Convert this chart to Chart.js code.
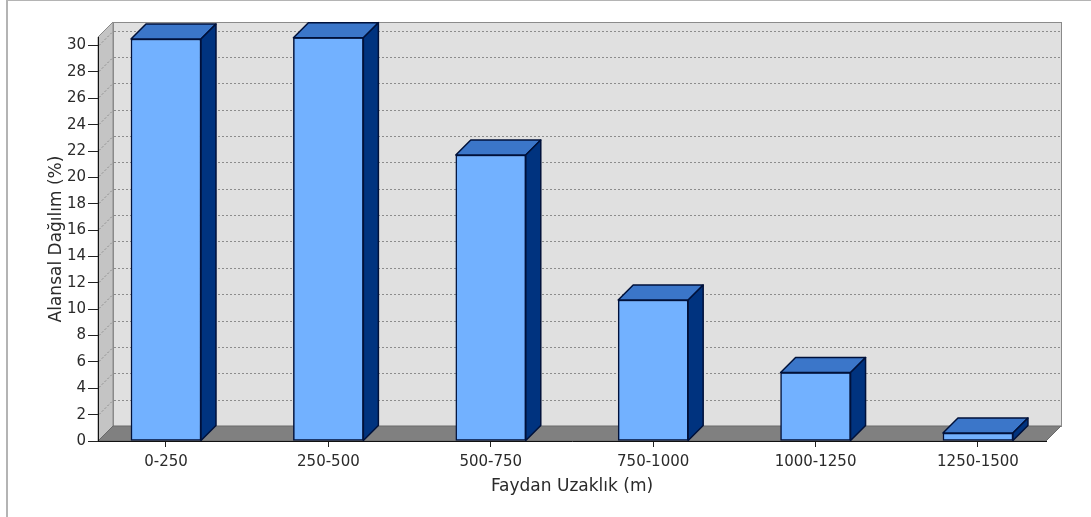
<!DOCTYPE html>
<html>
<head>
<meta charset="utf-8">
<script src="https://cdn.jsdelivr.net/npm/chart.js@4.4.1/dist/chart.umd.min.js"></script>
<style>
    body { margin: 0; background: #ffffff; }
    #frame {
        position: absolute; left: 6px; top: -1px;
        width: 1100px; height: 516px;
        border: 2px solid #b4b4b4;
    }
    #wrap { position: absolute; left: 0; top: 0; width: 1091px; height: 517px; }
</style>
</head>
<body>
<div id="frame"></div>
<div id="wrap"><canvas id="distChart"></canvas></div>
<script>
// Distance bands from the fault and their share of the area
const distanceBands = ['0-250', '250-500', '500-750', '750-1000', '1000-1250', '1250-1500'];
const areaShare = [30.5, 30.6, 21.7, 10.7, 5.2, 0.6];
const yTickStep = 2;
const yMax = 30.65;

// Depth of the fake 3D box (pixels)
const DX = 15;
const DY = 15;

const FONT = 'DejaVu Sans';
const OUTLINE = '#00113a';

// Walls, floor and dotted grid of the 3D box, drawn before the axes
const boxPlugin = {
    id: 'box3d',
    beforeDraw(chart) {
        const ctx = chart.ctx;
        const a = chart.chartArea;
        const yScale = chart.scales.y;
        ctx.save();

        // back wall
        ctx.fillStyle = '#e0e0e0';
        ctx.fillRect(a.left + DX, a.top - DY, a.right - a.left, a.bottom - a.top);
        ctx.strokeStyle = '#8a8a8a';
        ctx.lineWidth = 1;
        ctx.strokeRect(a.left + DX + 0.5, a.top - DY + 0.5, a.right - a.left, a.bottom - a.top);

        // left wall
        ctx.fillStyle = '#c4c4c4';
        ctx.beginPath();
        ctx.moveTo(a.left, a.bottom);
        ctx.lineTo(a.left, a.top);
        ctx.lineTo(a.left + DX, a.top - DY);
        ctx.lineTo(a.left + DX, a.bottom - DY);
        ctx.closePath();
        ctx.fill();
        ctx.strokeStyle = '#8a8a8a';
        ctx.stroke();

        // dotted grid lines on the back and left walls
        ctx.strokeStyle = '#8c8c8c';
        ctx.setLineDash([2, 2]);
        yScale.ticks.forEach(t => {
            if (t.value === 0) return;
            const py = Math.round(yScale.getPixelForValue(t.value)) + 0.5;
            ctx.beginPath();
            ctx.moveTo(a.left + DX + 1, py - DY);
            ctx.lineTo(a.right + DX, py - DY);
            ctx.stroke();
            ctx.beginPath();
            ctx.moveTo(a.left + 1, py - 1);
            ctx.lineTo(a.left + DX, py - DY);
            ctx.stroke();
        });
        ctx.setLineDash([]);

        // floor
        ctx.fillStyle = '#808080';
        ctx.beginPath();
        ctx.moveTo(a.left, a.bottom);
        ctx.lineTo(a.right, a.bottom);
        ctx.lineTo(a.right + DX, a.bottom - DY);
        ctx.lineTo(a.left + DX, a.bottom - DY);
        ctx.closePath();
        ctx.fill();
        ctx.strokeStyle = '#6a6a6a';
        ctx.stroke();

        ctx.restore();
    }
};

// Top and right side faces of every bar
const barDepthPlugin = {
    id: 'barDepth',
    afterDatasetsDraw(chart) {
        const ctx = chart.ctx;
        const meta = chart.getDatasetMeta(0);
        ctx.save();
        ctx.lineWidth = 1.5;
        ctx.lineJoin = 'round';
        ctx.strokeStyle = OUTLINE;
        meta.data.forEach(bar => {
            const p = bar.getProps(['x', 'y', 'base', 'width'], true);
            const l = p.x - p.width / 2;
            const r = p.x + p.width / 2;

            // top face
            ctx.fillStyle = '#3b76c9';
            ctx.beginPath();
            ctx.moveTo(l, p.y);
            ctx.lineTo(l + DX, p.y - DY);
            ctx.lineTo(r + DX, p.y - DY);
            ctx.lineTo(r, p.y);
            ctx.closePath();
            ctx.fill();
            ctx.stroke();

            // side face
            ctx.fillStyle = '#00337f';
            ctx.beginPath();
            ctx.moveTo(r, p.y);
            ctx.lineTo(r + DX, p.y - DY);
            ctx.lineTo(r + DX, p.base - DY);
            ctx.lineTo(r, p.base);
            ctx.closePath();
            ctx.fill();
            ctx.stroke();
        });
        ctx.restore();
    }
};

function renderChart() {
    const ctx = document.getElementById('distChart').getContext('2d');

    // bars sit on integer x positions, one per distance band
    const points = areaShare.map((v, i) => ({ x: i, y: v }));

    new Chart(ctx, {
        type: 'bar',
        data: {
            datasets: [{
                data: points,
                backgroundColor: '#72b1ff',
                borderColor: OUTLINE,
                borderWidth: 1.5,
                borderSkipped: false,
                barThickness: 70
            }]
        },
        plugins: [boxPlugin, barDepthPlugin],
        options: {
            responsive: true,
            maintainAspectRatio: false,
            animation: false,
            layout: { padding: { left: 0, top: 37, right: 45, bottom: 0 } },
            plugins: {
                legend: { display: false },
                tooltip: { enabled: false }
            },
            scales: {
                x: {
                    type: 'linear',
                    min: -0.4187,
                    max: 5.419,
                    bounds: 'data',
                    offset: false,
                    afterFit: scale => { scale.height = 76; },
                    afterBuildTicks: scale => {
                        scale.ticks = distanceBands.map((b, i) => ({ value: i }));
                    },
                    grid: {
                        offset: false,
                        drawOnChartArea: false,
                        drawTicks: true,
                        tickLength: 6,
                        color: '#222222'
                    },
                    border: { display: true, color: '#111111', width: 1 },
                    ticks: {
                        autoSkip: false,
                        maxRotation: 0,
                        padding: 6,
                        color: '#2a2a2a',
                        font: { family: FONT, size: 15 },
                        callback: v => distanceBands[v]
                    },
                    title: {
                        display: true,
                        text: 'Faydan Uzaklık (m)',
                        color: '#2a2a2a',
                        font: { family: FONT, size: 17 },
                        padding: { top: 0, bottom: 20 }
                    }
                },
                y: {
                    min: 0,
                    max: yMax,
                    afterFit: scale => { scale.width = 98; },
                    grid: {
                        drawOnChartArea: false,
                        drawTicks: true,
                        tickLength: 10,
                        color: '#222222'
                    },
                    border: { display: true, color: '#111111', width: 1 },
                    ticks: {
                        stepSize: yTickStep,
                        includeBounds: false,
                        padding: 2,
                        color: '#2a2a2a',
                        font: { family: FONT, size: 15 }
                    },
                    title: {
                        display: true,
                        text: 'Alansal Dağılım (%)',
                        color: '#2a2a2a',
                        font: { family: FONT, size: 17 },
                        padding: { top: 46, bottom: 0 }
                    }
                }
            }
        }
    });
}

renderChart();
</script>
</body>
</html>
